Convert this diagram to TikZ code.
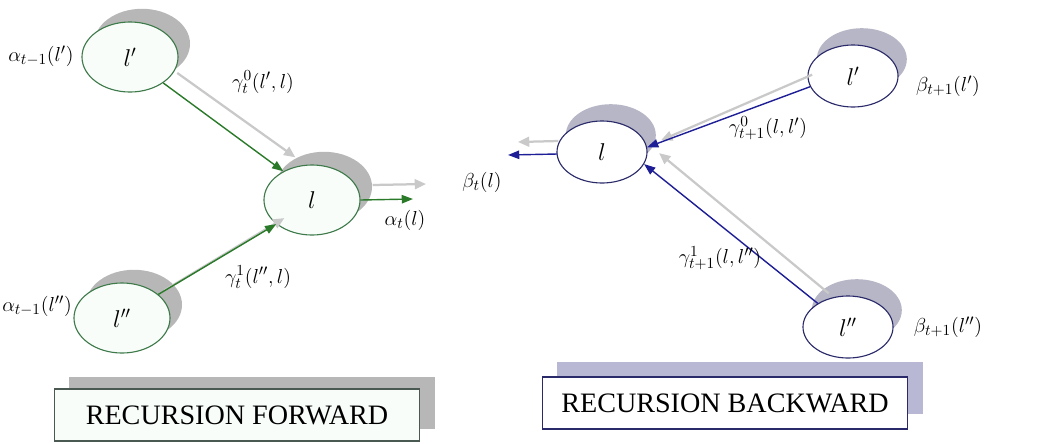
\documentclass[tikz,border=0pt]{standalone}
\usepackage{fontspec}
\setmainfont{Liberation Serif}
\usepackage{tikz}
\usetikzlibrary{
  arrows.meta,
  positioning,
  shapes.geometric,
  shadows
}
\definecolor{FwdGreen}{HTML}{2A7A2A}
\definecolor{FwdLine}{HTML}{3E7A4A}
\definecolor{FwdFill}{HTML}{F8FDFA}
\definecolor{BwdBlue}{HTML}{1E1E96}
\definecolor{BwdLine}{HTML}{2A2A6A}
\definecolor{ShadowGray}{HTML}{B7B7B7}
\definecolor{ShadowLav}{HTML}{B6B6C6}
\definecolor{ArrowGray}{HTML}{C9C9C9}
\definecolor{BoxLine}{HTML}{4A5A52}
\definecolor{BoxLav}{HTML}{B8B8D4}

\tikzset{
  fwdstate/.style={ellipse,draw=FwdLine,fill=FwdFill,line width=0.8pt,
    minimum width=2.4cm,minimum height=1.75cm,inner sep=0pt,font=\LARGE,
    drop shadow={shadow xshift=0.3cm,shadow yshift=0.33cm,fill=ShadowGray,opacity=1}},
  bwdstate/.style={ellipse,draw=BwdLine,fill=white,line width=0.8pt,
    minimum width=2.25cm,minimum height=1.55cm,inner sep=0pt,font=\LARGE,
    drop shadow={shadow xshift=0.22cm,shadow yshift=0.42cm,fill=ShadowLav,opacity=1}},
  fwdarrow/.style={draw=FwdGreen,line width=1pt,-{Triangle[length=8pt,width=6pt]}},
  bwdarrow/.style={draw=BwdBlue,line width=1pt,-{Triangle[length=8pt,width=6pt]}},
  sharrow/.style={draw=ArrowGray,line width=1.6pt,-{Triangle[length=8pt,width=7pt]}},
  lbl/.style={font=\fontsize{15}{18}\selectfont,inner sep=1pt},
  titlebox/.style={rectangle,line width=0.9pt,minimum width=9.125cm,
    minimum height=1.3cm,font=\fontsize{20}{24}\selectfont}
}

\begin{document}
\begin{tikzpicture}[x=0.025cm,y=-0.025cm]
  \useasboundingbox (0,0) rectangle (1040,443);

  % forward recursion
  \node[fwdstate] (lp) at (130,57) {$l'$};
  \node[fwdstate] (l) at (312,200) {$l$};
  \node[fwdstate] (lpp) at (122,318) {$l''$};

  \draw[sharrow] ([shift={(14,-10)}]lp.-38) -- ([shift={(12,-14)}]l.135);
  \draw[fwdarrow] (lp.-38) -- (l.135);
  \draw[sharrow] ([shift={(6,-4)}]lpp.33) -- ([shift={(8,-6)}]l.-146);
  \draw[fwdarrow] (lpp.33) -- (l.-146);

  \coordinate (aoutsh) at (426,184);
  \coordinate (aout) at (413,199);
  \draw[sharrow] ([shift={(12,-15)}]l.east) -- (aoutsh);
  \draw[fwdarrow] (l.east) -- (aout);

  \node[lbl] (alp) at (41,56) {$\alpha_{t-1}(l')$};
  \node[lbl] (alpp) at (37,306) {$\alpha_{t-1}(l'')$};
  \node[lbl] (gfz) at (263,82) {$\gamma^{0}_{t}(l',l)$};
  \node[lbl] (gfo) at (258,277) {$\gamma^{1}_{t}(l'',l)$};
  \node[lbl] (al) at (405,220) {$\alpha_{t}(l)$};

  % backward recursion
  \node[bwdstate] (rl) at (602,152) {$l$};
  \node[bwdstate] (rlp) at (853,76) {$l'$};
  \node[bwdstate] (rlpp) at (848,327) {$l''$};

  \draw[sharrow] ([shift={(2,-12)}]rlp.194) -- ([shift={(14,-7)}]rl.6);
  \draw[bwdarrow] (rlp.194) -- (rl.6);
  \draw[sharrow] ([shift={(11,-10)}]rlpp.142) -- ([shift={(15,-11)}]rl.-16);
  \draw[bwdarrow] (rlpp.142) -- (rl.-16);

  \coordinate (boutsh) at (518,142);
  \coordinate (bout) at (508,155);
  \draw[sharrow] ([shift={(2,-11)}]rl.west) -- (boutsh);
  \draw[bwdarrow] ([shift={(1,2)}]rl.west) -- (bout);

  \node[lbl] (bl) at (482,182) {$\beta_{t}(l)$};
  \node[lbl] (gbz) at (768,128) {$\gamma^{0}_{t+1}(l,l')$};
  \node[lbl] (gbo) at (720,258) {$\gamma^{1}_{t+1}(l,l'')$};
  \node[lbl] (blp) at (948,86) {$\beta_{t+1}(l')$};
  \node[lbl] (blpp) at (948,327) {$\beta_{t+1}(l'')$};

  % captions
  \node[titlebox,draw=BoxLine,fill=FwdFill,
    drop shadow={shadow xshift=0.375cm,shadow yshift=0.3cm,fill=ShadowGray,opacity=1}]
    (fwdtitle) at (237,415) {RECURSION FORWARD};
  \node[titlebox,draw=BwdLine,fill=white,
    drop shadow={shadow xshift=0.375cm,shadow yshift=0.375cm,fill=BoxLav,opacity=1}]
    (bwdtitle) at (725,403) {RECURSION BACKWARD};
\end{tikzpicture}
\end{document}
